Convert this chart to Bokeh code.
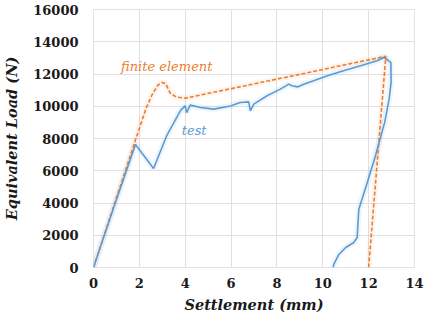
from bokeh.plotting import figure
from bokeh.models import Range1d, Label, FixedTicker
from bokeh.embed import file_html
from bokeh.resources import INLINE

# Test curve (blue, solid)
test_x = [0.0, 0.9, 1.83, 2.62, 3.2, 3.8, 4.0, 4.06, 4.22, 4.66, 5.24, 5.97, 6.4, 6.77,
          6.84, 6.99, 7.57, 8.15, 8.52, 8.65, 8.9, 9.17, 9.6, 10.2, 10.9, 11.65, 12.37,
          12.66, 12.8, 12.97, 12.98, 12.9, 12.7, 12.3, 11.9, 11.57, 11.5, 11.35, 11.0,
          10.7, 10.48, 10.45]
test_y = [0, 3800, 7630, 6140, 8200, 9740, 10020, 9610, 10070, 9920, 9820, 10020, 10230,
          10270, 9720, 10130, 10650, 11060, 11370, 11270, 11200, 11370, 11580, 11890,
          12200, 12510, 12820, 13020, 12900, 12710, 11500, 10500, 9000, 6950, 5080, 3600,
          1860, 1550, 1240, 810, 190, 0]

# Finite element curve (orange, dashed)
fe_x = [0.0, 1.83, 2.3, 2.55, 2.8, 3.0, 3.15, 3.35, 3.6, 4.0, 8.73, 12.75, 12.0]
fe_y = [0, 7900, 9900, 10700, 11300, 11480, 11400, 10800, 10580, 10500, 11900, 13100, 0]

x_ticks = [0, 2, 4, 6, 8, 10, 12, 14]
y_ticks = [0, 2000, 4000, 6000, 8000, 10000, 12000, 14000, 16000]

blue = "#5B9BD5"
orange = "#ED7D31"
serif = "DejaVu Serif"

p = figure(frame_width=321, frame_height=258, output_backend="svg", toolbar_location=None,
           x_range=Range1d(0, 14), y_range=Range1d(0, 16000),
           min_border_left=92, min_border_right=13, min_border_top=9, min_border_bottom=46)

p.outline_line_color = "#e3e3e3"
p.background_fill_color = "white"
p.border_fill_color = "white"

for ax in (p.xaxis[0], p.yaxis[0]):
    ax.axis_line_color = None
    ax.major_tick_line_color = None
    ax.minor_tick_line_color = None
    ax.major_label_text_font = serif
    ax.major_label_text_font_style = "bold"
    ax.major_label_text_font_size = "13px"
    ax.major_label_text_color = "#1a1a1a"
    ax.axis_label_text_font = serif
    ax.axis_label_text_font_style = "bold italic"
    ax.axis_label_text_font_size = "14.5px"
    ax.axis_label_text_color = "#1a1a1a"

p.xaxis.ticker = FixedTicker(ticks=x_ticks)
p.yaxis.ticker = FixedTicker(ticks=y_ticks)
p.xaxis.axis_label = "Settlement (mm)"
p.yaxis.axis_label = "Equivalent Load (N)"
p.xaxis.major_label_standoff = 4
p.yaxis.major_label_standoff = 9
p.xaxis.axis_label_standoff = 5
p.yaxis.axis_label_standoff = 10

p.xgrid.grid_line_color = "#e0e0e0"
p.ygrid.grid_line_color = "#e0e0e0"

# soft halos
p.line(test_x, test_y, line_color=blue, line_width=6, line_alpha=0.10)
p.line(fe_x, fe_y, line_color=orange, line_width=6, line_alpha=0.08)

p.line(fe_x, fe_y, line_color=orange, line_width=1.6, line_dash="4 2")
p.line(test_x, test_y, line_color=blue, line_width=1.6)

p.add_layout(Label(x=1.2, y=12450, text="finite element", text_color=orange,
                   text_font=serif, text_font_style="italic", text_font_size="13px",
                   text_baseline="middle", text_align="left"))
p.add_layout(Label(x=3.85, y=8500, text="test", text_color=blue,
                   text_font=serif, text_font_style="italic", text_font_size="13px",
                   text_baseline="middle", text_align="left"))

open("out.html", "w").write(file_html(p, INLINE))
